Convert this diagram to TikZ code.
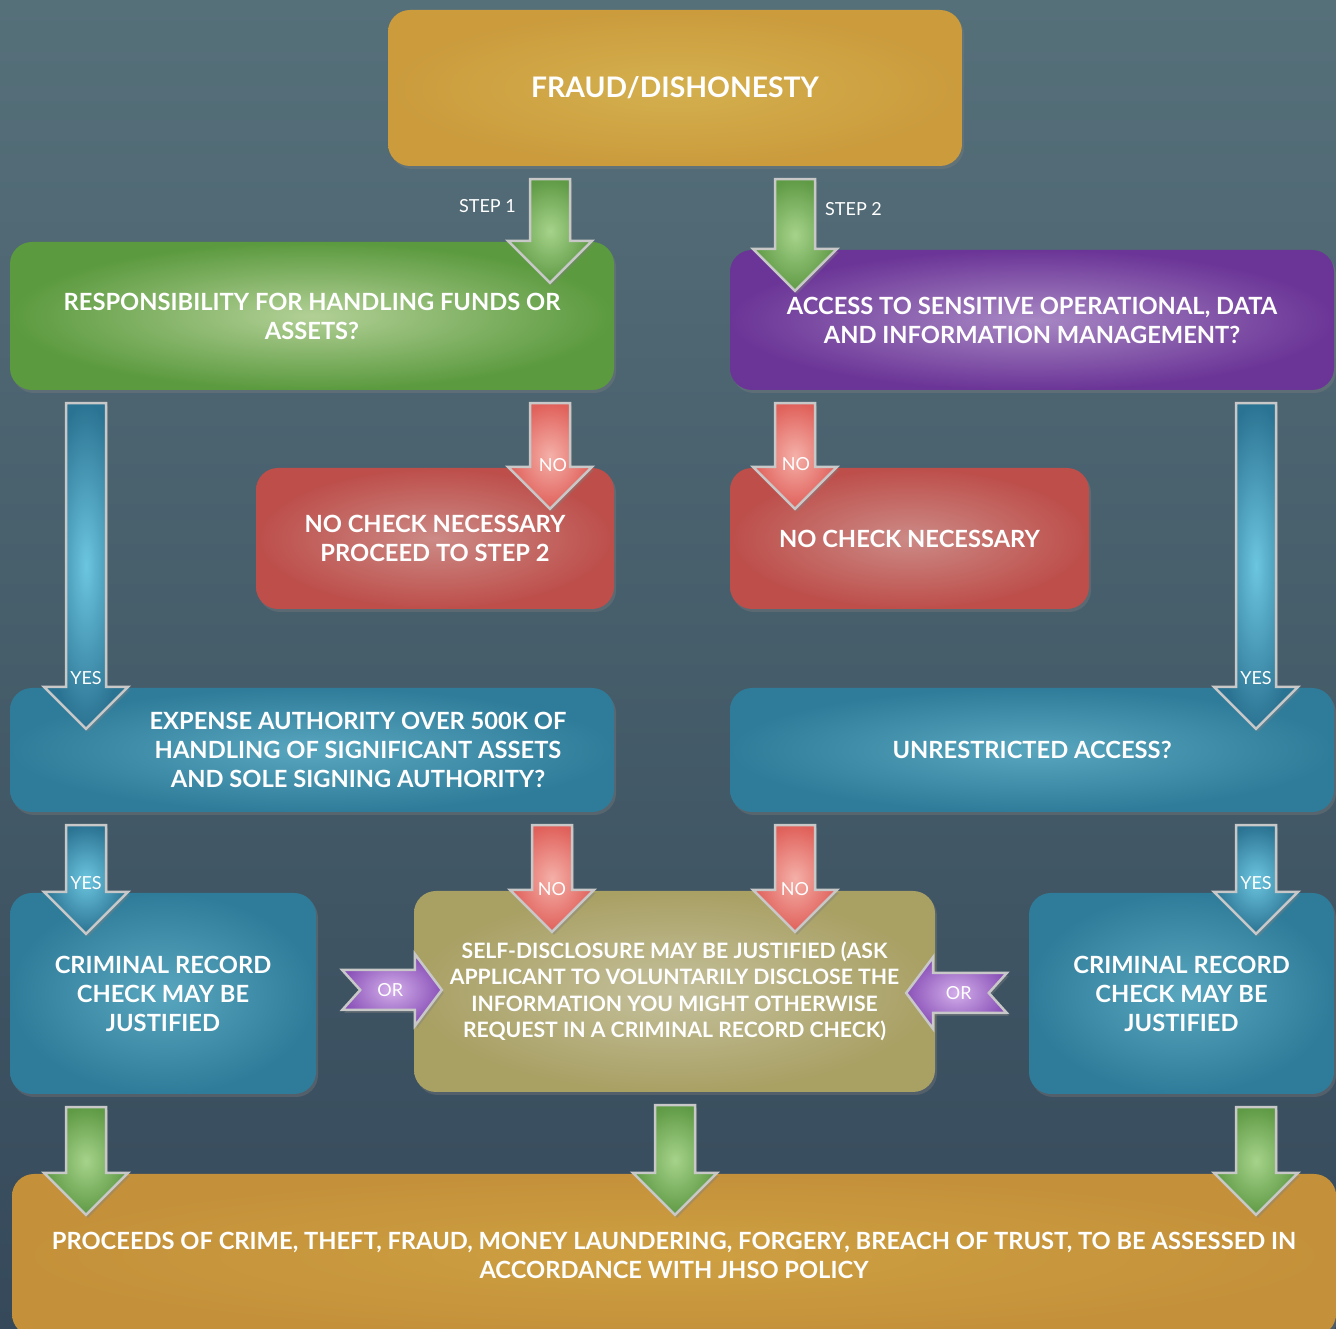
\documentclass[tikz,border=0pt]{standalone}
\usepackage{fontspec}
\setmainfont{Lato}
\usetikzlibrary{calc, shadows}
\definecolor{bgtop}{HTML}{56707A}
\definecolor{bgmid}{HTML}{4B646E}
\definecolor{bgbottom}{HTML}{35495A}
\definecolor{arrowrim}{HTML}{C8C8C8}

\newcommand{\fdtitle}{\bfseries\fontsize{28.3}{34}\selectfont}
\newcommand{\fdbox}{\bfseries\fontsize{23.7}{29}\selectfont}
\newcommand{\fdsmall}{\bfseries\fontsize{21.2}{26.5}\selectfont}
\newcommand{\fdlabel}{\fontsize{18}{20}\selectfont}

% downward block arrow between two boxes
\newcommand{\flowdown}[5]{% name, style, x, from, to
  \path[blockarrow, #2] let \p1=(#4.south), \p2=(#5.north) in
    (#3-20, \y1-13) -- (#3+20, \y1-13) -- (#3+20, \y2+1) -- (#3+42, \y2+1)
    -- (#3, \y2-41) -- (#3-42, \y2+1) -- (#3-20, \y2+1) -- cycle;
  \path let \p2=(#5.north) in coordinate (#1) at (#3, \y2+1);
}
% sideways block arrow with notched tail
\newcommand{\flowside}[3]{% name, tail, tip
  \path[blockarrow, purplearrow] let \p1=(#2), \p2=(#3), \n1={sign(\x2-\x1)} in
    (\x1, \y2+20) -- (\x1+18*\n1, \y2) -- (\x1, \y2-20) -- (\x2-27*\n1, \y2-20)
    -- (\x2-27*\n1, \y2-36) -- (\x2, \y2) -- (\x2-27*\n1, \y2+36)
    -- (\x2-27*\n1, \y2+20) -- cycle;
  \path let \p1=(#2), \p2=(#3), \n1={sign(\x2-\x1)} in
    coordinate (#1) at (\x1+48*\n1, \y2);
}

\begin{document}
\begin{tikzpicture}[x=1pt, y=1pt,
  box/.style={rounded corners=22pt, align=center, text=white, font=\fdbox,
    drop shadow={shadow xshift=2pt, shadow yshift=-3pt, opacity=.35}},
  boxtext/.style={align=center, text=white, font=\fdbox},
  goldbox/.style={inner color={rgb,255:red,212;green,176;blue,78}, outer color={rgb,255:red,203;green,155;blue,60}},
  policybox/.style={inner color={rgb,255:red,206;green,160;blue,66}, outer color={rgb,255:red,196;green,145;blue,58}},
  greenbox/.style={inner color={rgb,255:red,178;green,208;blue,150}, outer color={rgb,255:red,91;green,154;blue,62}},
  purplebox/.style={inner color={rgb,255:red,168;green,136;blue,196}, outer color={rgb,255:red,107;green,53;blue,151}},
  redbox/.style={inner color={rgb,255:red,204;green,138;blue,134}, outer color={rgb,255:red,189;green,78;blue,74}},
  tealbox/.style={inner color={rgb,255:red,88;green,166;blue,190}, outer color={rgb,255:red,47;green,124;blue,154}},
  khakibox/.style={inner color={rgb,255:red,196;green,192;blue,156}, outer color={rgb,255:red,169;green,160;blue,100}},
  blockarrow/.style={draw=arrowrim, line width=2.5pt, line join=miter,
    drop shadow={shadow xshift=2pt, shadow yshift=-3pt, opacity=.4}},
  greenarrow/.style={inner color={rgb,255:red,166;green,211;blue,138}, outer color={rgb,255:red,95;green,154;blue,69}},
  redarrow/.style={inner color={rgb,255:red,244;green,176;blue,168}, outer color={rgb,255:red,224;green,96;blue,90}},
  tealarrow/.style={inner color={rgb,255:red,108;green,198;blue,224}, outer color={rgb,255:red,43;green,115;blue,146}},
  purplearrow/.style={inner color={rgb,255:red,211;green,174;blue,234}, outer color={rgb,255:red,138;green,82;blue,184}},
  flowlabel/.style={text=white, font=\fdlabel, inner sep=0pt}]

  \useasboundingbox (0,0) rectangle (1336,1329);
  \clip (0,0) rectangle (1336,1329);
  \fill[top color=bgtop, middle color=bgmid, bottom color=bgbottom] (0,0) rectangle (1336,1329);

  % boxes
  \node[box, goldbox, minimum width=574pt, minimum height=156pt, font=\fdtitle] (fraud) at (675,1241) {FRAUD/DISHONESTY};
  \node[box, greenbox, minimum width=604pt, minimum height=148pt] (funds) at (312,1013)
    {RESPONSIBILITY FOR HANDLING FUNDS OR\\ASSETS?};
  \node[box, purplebox, minimum width=604pt, minimum height=140pt] (access) at (1032,1009)
    {ACCESS TO SENSITIVE OPERATIONAL, DATA\\AND INFORMATION MANAGEMENT?};
  \node[box, redbox, minimum width=358pt, minimum height=141pt] (nocheckA) at (435,790.5)
    {NO CHECK NECESSARY\\PROCEED TO STEP 2};
  \node[box, redbox, minimum width=359pt, minimum height=141pt] (nocheckB) at (909.5,790.5)
    {NO CHECK NECESSARY};
  \node[box, tealbox, minimum width=604pt, minimum height=124pt] (expense) at (312,579) {};
  \node[boxtext] (expensetext) at ([xshift=46pt]expense.center)
    {EXPENSE AUTHORITY OVER 500K OF\\HANDLING OF SIGNIFICANT ASSETS\\AND SOLE SIGNING AUTHORITY?};
  \node[box, tealbox, minimum width=604pt, minimum height=124pt] (unrestricted) at (1032,579)
    {UNRESTRICTED ACCESS?};
  \node[box, tealbox, minimum width=306pt, minimum height=201pt] (crimA) at (163,335.5)
    {CRIMINAL RECORD\\CHECK MAY BE\\JUSTIFIED};
  \node[box, khakibox, minimum width=521pt, minimum height=201pt, font=\fdsmall] (selfdisc) at (674.5,337.5)
    {SELF-DISCLOSURE MAY BE JUSTIFIED (ASK\\APPLICANT TO VOLUNTARILY DISCLOSE THE\\INFORMATION YOU MIGHT OTHERWISE\\REQUEST IN A CRIMINAL RECORD CHECK)};
  \node[box, tealbox, minimum width=305pt, minimum height=201pt] (crimB) at (1181.5,335.5)
    {CRIMINAL RECORD\\CHECK MAY BE\\JUSTIFIED};
  \node[box, policybox, minimum width=1324pt, minimum height=162pt] (policy) at (674,74)
    {PROCEEDS OF CRIME, THEFT, FRAUD, MONEY LAUNDERING, FORGERY, BREACH OF TRUST, TO BE ASSESSED IN\\ACCORDANCE WITH JHSO POLICY};

  % arrows
  \flowdown{stepA}{greenarrow}{550}{fraud}{funds}
  \flowdown{stepB}{greenarrow}{795}{fraud}{access}
  \flowdown{noA}{redarrow}{550}{funds}{nocheckA}
  \flowdown{noB}{redarrow}{795}{access}{nocheckB}
  \flowdown{yesA}{tealarrow}{86}{funds}{expense}
  \flowdown{yesB}{tealarrow}{1256}{access}{unrestricted}
  \flowdown{yesC}{tealarrow}{86}{expense}{crimA}
  \flowdown{noC}{redarrow}{552}{expense}{selfdisc}
  \flowdown{noD}{redarrow}{795}{unrestricted}{selfdisc}
  \flowdown{yesD}{tealarrow}{1256}{unrestricted}{crimB}
  \flowdown{endA}{greenarrow}{86}{crimA}{policy}
  \flowdown{endB}{greenarrow}{675}{selfdisc}{policy}
  \flowdown{endC}{greenarrow}{1256}{crimB}{policy}
  \flowside{orA}{$(crimA.east)+(26,1.5)$}{$(selfdisc.west)+(28,1.5)$}
  \flowside{orB}{$(crimB.west)+(-22,-1.5)$}{$(selfdisc.east)+(-29,-1.5)$}

  % arrow labels
  \node[flowlabel, anchor=east] (steplblA) at ([shift={(-34pt,35pt)}]stepA) {STEP 1};
  \node[flowlabel, anchor=west] (steplblB) at ([shift={(30pt,40pt)}]stepB) {STEP 2};
  \node[flowlabel] (nolblA) at ([shift={(3pt,2pt)}]noA) {NO};
  \node[flowlabel] (nolblB) at ([shift={(1pt,3pt)}]noB) {NO};
  \node[flowlabel] (nolblC) at ([yshift=1pt]noC) {NO};
  \node[flowlabel] (nolblD) at ([yshift=1pt]noD) {NO};
  \node[flowlabel] (yeslblA) at ([yshift=9pt]yesA) {YES};
  \node[flowlabel] (yeslblB) at ([yshift=9pt]yesB) {YES};
  \node[flowlabel] (yeslblC) at ([yshift=9pt]yesC) {YES};
  \node[flowlabel] (yeslblD) at ([yshift=9pt]yesD) {YES};
  \node[flowlabel] (orlblA) at (orA) {OR};
  \node[flowlabel] (orlblB) at (orB) {OR};
\end{tikzpicture}
\end{document}
